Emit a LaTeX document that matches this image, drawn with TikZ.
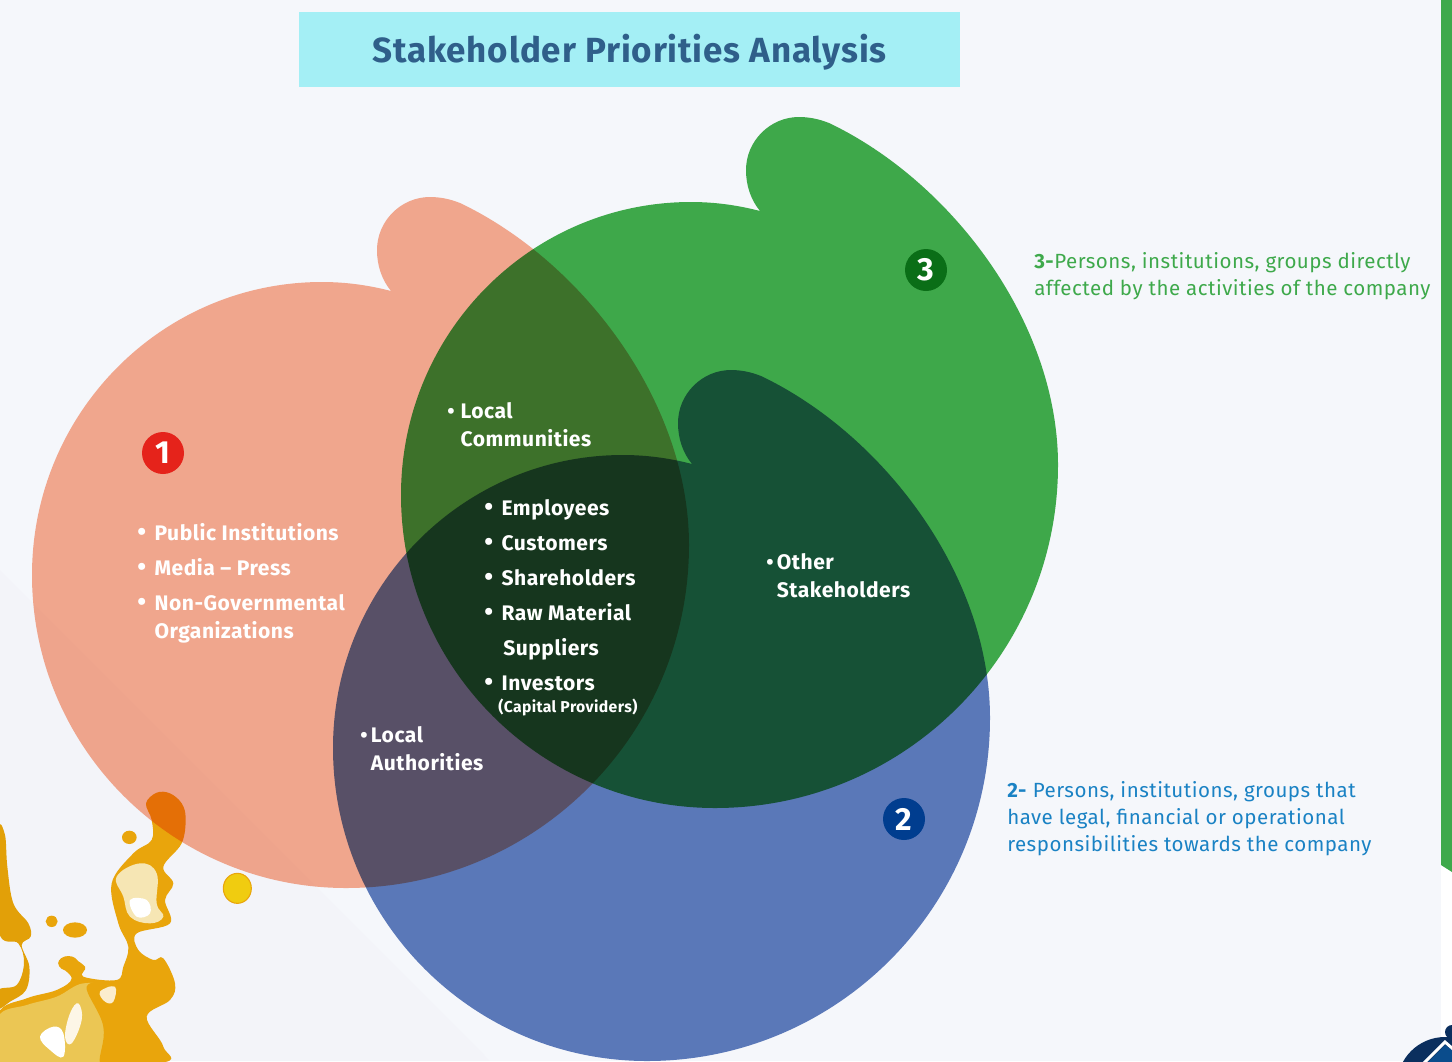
\documentclass[tikz,border=0pt]{standalone}
\usepackage{fontspec}
\setmainfont[LetterSpace=2.4]{Fira Sans}
\definecolor{pagebg}{HTML}{F5F7FB}
\definecolor{bandbg}{HTML}{F3F4F9}
\definecolor{salmonc}{RGB}{250,172,144}
\definecolor{greenc}{RGB}{65,174,76}
\definecolor{bluec}{RGB}{94,124,187}
\definecolor{greenbar}{HTML}{3EA94B}
\definecolor{titlebg}{HTML}{A4EFF5}
\definecolor{titlefg}{HTML}{2F5F8A}
\definecolor{bluetxt}{HTML}{1A82C4}
\definecolor{splash}{HTML}{E9A50C}
\definecolor{splashb}{HTML}{E2A008}
\definecolor{splashl}{HTML}{F6E6B4}
\definecolor{splashp}{HTML}{EBC654}
\definecolor{logod}{HTML}{0B2F5E}
\definecolor{logom}{HTML}{0A4C8C}
\definecolor{badgeone}{HTML}{E5231B}
\definecolor{badgetwo}{HTML}{003D8F}
\definecolor{badgethree}{HTML}{0A6E17}
\definecolor{dropc}{HTML}{F0CC10}
\tikzset{
  lab/.style={text=white,anchor=base west,font=\fontsize{15.8}{21}\selectfont\bfseries,inner sep=0pt,align=left},
  note/.style={anchor=base west,font=\fontsize{15.4}{20}\selectfont,inner sep=0pt,align=left},
  badge/.style={circle,minimum size=31.5pt,inner sep=0pt,text=white,font=\fontsize{24}{24}\selectfont\bfseries},
  venn/.style={blend mode=multiply},
}
\newcommand{\bl}{\makebox[13pt][l]{\raisebox{-0.6pt}{\fontsize{19}{19}\selectfont•}}}
\newcommand{\blobpath}{(391,291) .. controls (368,285) and (345,282) .. (322,282)
  .. controls (162,282) and (32,413) .. (32,575)
  .. controls (32,748) and (173,888) .. (346,888)
  .. controls (535,888) and (689,735) .. (689,545)
  .. controls (689,400) and (580,260) .. (460,203)
  .. controls (450,199) and (440,197) .. (430,197)
  .. controls (401,197) and (377,221) .. (377,250)
  .. controls (377,266) and (382,280) .. (391,291) -- cycle}
\begin{document}
\begin{tikzpicture}[x=0.75pt,y=-0.75pt]
\useasboundingbox (0,0) rectangle (1452,1061);
\clip (0,0) rectangle (1452,1061);
\fill[white] (0,0) rectangle (1452,1061);
\fill[pagebg] (0,0) rectangle (1441,1061);
\fill[bandbg] (0,570) -- (490,1061) -- (0,1061) -- cycle;
\fill[greenbar] (1441,0) -- (1452,0) -- (1452,872) -- (1441,865) -- cycle;
% logo
\fill[logod] (1445,1085) circle (48);
\fill[logod] (1452,1032) circle (7);
\fill[logom] (1445,1045) -- (1420,1070) -- (1460,1070) -- (1460,1055) -- cycle;
\draw[white,line width=2.2pt] (1423,1064) -- (1445,1042) -- (1460,1055);
% splash
\begin{scope}[yshift=-570pt,x=0.25pt,y=-0.25pt]
\fill[splashb] plot[smooth cycle,tension=0.6] coordinates {(-5,215)(15,225)(22,320)(40,430)(85,490)(92,530)(65,555)(88,620)(78,690)(30,725)(-5,745)(-5,690)(50,675)(72,610)(55,550)(-5,510)};
\fill[splash] plot[smooth cycle,tension=0.6] coordinates {(-5,760)(80,715)(170,690)(215,655)(175,610)(205,590)(255,620)(250,650)(350,660)(370,620)(385,560)(355,490)(335,370)(400,280)(455,240)(455,180)(438,130)(470,98)(510,100)(545,130)(557,175)(545,250)(490,320)(520,370)(495,420)(510,490)(410,520)(415,570)(460,600)(490,595)(525,670)(510,720)(440,770)(490,860)(470,910)(-5,910)};
\fill[splashp] plot[smooth cycle,tension=0.6] coordinates {(-5,770)(80,735)(170,710)(250,670)(340,690)(330,800)(300,910)(-5,910)};
\fill[splashl] plot[smooth cycle,tension=0.7] coordinates {(350,350)(420,310)(470,340)(470,430)(490,470)(450,490)(390,470)(370,410)};
\fill[white] plot[smooth cycle,tension=0.7] coordinates {(390,420)(440,420)(450,460)(410,470)};
\fill[splash] plot[smooth cycle,tension=0.7] coordinates {(260,680)(340,700)(345,910)(300,910)(310,800)};
\fill[white] plot[smooth cycle,tension=0.7] coordinates {(120,830)(160,800)(190,820)(190,890)(150,870)};
\fill[white!90!splash] plot[smooth cycle,tension=0.7] coordinates {(210,760)(235,730)(245,780)(215,850)(195,830)};
\fill[white!80!splash] plot[smooth cycle,tension=0.7] coordinates {(300,695)(345,680)(340,725)(315,725)};
\fill[splash] (388,232) ellipse [x radius=22,y radius=20];
\fill[splash] (155,484) ellipse [x radius=18,y radius=17];
\fill[splash] (225,510) ellipse [x radius=36,y radius=23];
\fill[splash] (205,610) ellipse [x radius=30,y radius=22];
\fill[dropc,draw=splash,line width=0.8pt] (712,385) ellipse [x radius=42,y radius=45];
\end{scope}
% venn shapes
\fill[salmonc,venn] \blobpath;
\fill[bluec,venn,shift={(301,173)}] \blobpath;
\fill[greenc,venn,shift={(369,-80)}] \blobpath;
% title
\node[fill=titlebg,minimum width=495.75pt,minimum height=56.25pt,inner sep=0pt,text height=20.2pt,text depth=0pt,text=titlefg,font=\fontsize{26.2}{30}\selectfont\bfseries] (title) at (629.5,49.5) {Stakeholder Priorities Analysis};
% badges
\node[badge,fill=badgeone] (b1) at (163,453) {1};
\node[badge,fill=badgetwo] (b2) at (904,819) {2};
\node[badge,fill=badgethree] (b3) at (926,270) {3};
% group 1
\node[lab] (i1) at (137,540) {\bl Public Institutions};
\node[lab] (i2) at (137,575) {\bl Media – Press};
\node[lab] (i3) at (137,638) {\bl Non-Governmental\\\hspace*{13pt}Organizations};
% centre
\node[lab] (c1) at (484,515) {\bl Employees};
\node[lab] (c2) at (484,550) {\bl Customers};
\node[lab] (c3) at (484,585) {\bl Shareholders};
\node[lab] (c4) at (484,620) {\bl Raw Material};
\node[lab] (c5) at (503,655) {Suppliers};
\node[lab] (c6) at (484,690) {\bl Investors};
\node[lab,font=\fontsize{11.8}{14}\selectfont\bfseries] (c7) at (498,712) {(Capital Providers)};
% others
\node[lab] (l1) at (447,446) {\makebox[10pt][l]{•}Local\\\hspace*{10pt}Communities};
\node[lab] (l2) at (360,770) {\makebox[8pt][l]{•}Local\\\hspace*{8pt}Authorities};
\node[lab] (l3) at (766,597) {\makebox[8pt][l]{•}Other\\\hspace*{8pt}Stakeholders};
% notes
\node[note,text=greenbar] (n3) at (1034,295) {\textbf{3-}Persons, institutions, groups directly\\affected by the activities of the company};
\node[note,text=bluetxt] (n2) at (1007,851) {\textbf{2-} Persons, institutions, groups that\\have legal, financial or operational\\responsibilities towards the company};
\end{tikzpicture}
\end{document}
